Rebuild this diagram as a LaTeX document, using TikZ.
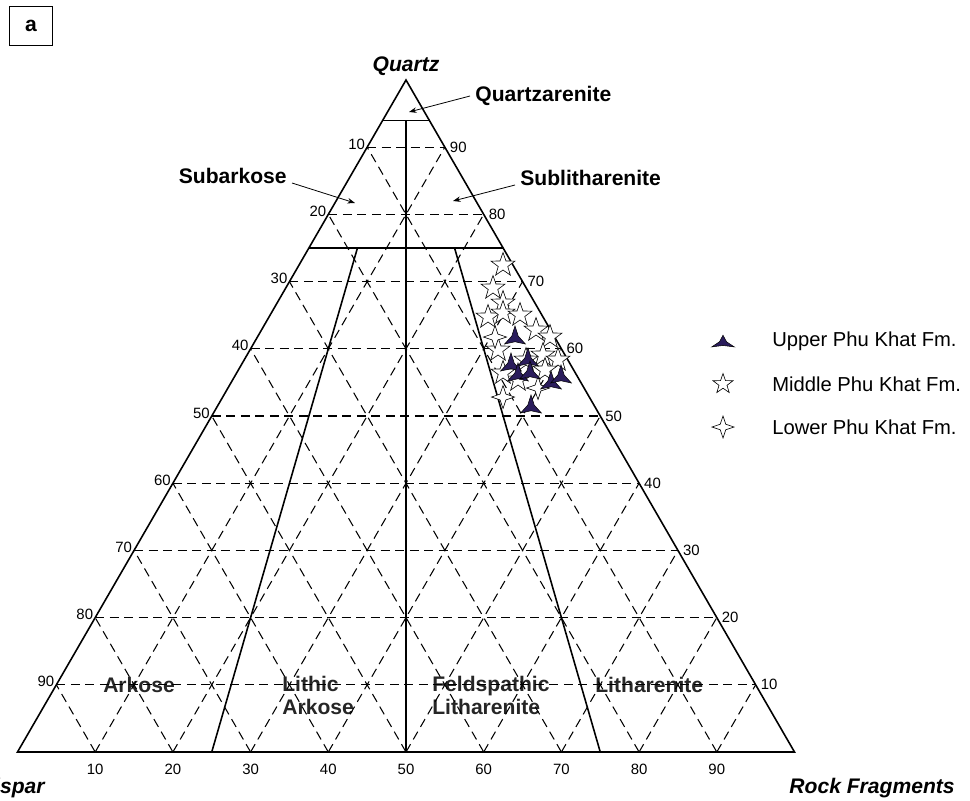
\documentclass[tikz,border=0pt]{standalone}
\usepackage{fontspec}
\setmainfont{Liberation Sans}
\usetikzlibrary{shapes.geometric,arrows.meta,calc}
\definecolor{upperblue}{RGB}{42,28,92}
\tikzstyle{grid}=[dash pattern=on 1.8mm off 1.1mm, line width=0.6pt]
\tikzstyle{border}=[line width=0.9pt]
\tikzstyle{tick}=[font=\fontsize{8.5}{10}\selectfont, inner sep=1pt]
\tikzstyle{field}=[font=\fontsize{12}{13}\selectfont\bfseries, align=left, inner sep=0pt, text=black!85]
\tikzstyle{endmember}=[font=\fontsize{12}{13}\selectfont\bfseries\itshape, inner sep=0pt]
\tikzstyle{pointer}=[-{Stealth[length=1.5mm,width=1.1mm]}, line width=0.45pt]
\tikzstyle{upper}=[star, star points=3, star point ratio=3.2, fill=upperblue, draw=black, line width=0.3pt, inner sep=0pt, minimum size=4.8mm]
\tikzstyle{middle}=[star, star points=5, star point ratio=2.5, fill=white, draw=black, line width=0.35pt, inner sep=0pt, minimum size=5mm]
\tikzstyle{lower}=[star, star points=4, star point ratio=2.8, fill=white, draw=black, line width=0.35pt, inner sep=0pt, minimum size=4.6mm]
\tikzstyle{legendtext}=[font=\fontsize{11.5}{13}\selectfont, anchor=west, inner sep=0pt]

\begin{document}
\begin{tikzpicture}[x=0.2mm,y=-0.2mm]
\useasboundingbox (0,0) rectangle (970,800);

% corners
\coordinate (F) at (17.5,752);
\coordinate (R) at (794.5,752);
\coordinate (Q) at (406,80);

% field names
\node[field, anchor=base] (arkose) at (139,692) {Arkose};
\node[field, anchor=north west] (lithark) at (282,676) {Lithic\\Arkose};
\node[field, anchor=north west] (feldlith) at (432,676) {Feldspathic\\Litharenite};
\node[field, anchor=base west] (lith) at (595,692) {Litharenite};

% dashed grid
\foreach \i in {1,...,9}{
  \pgfmathsetmacro\a{\i/10}
  \pgfmathsetmacro\b{1-\i/10}
  \draw[grid] (barycentric cs:Q=\a,F=\b) -- (barycentric cs:Q=\a,R=\b);
  \draw[grid] (barycentric cs:R=\a,F=\b) -- (barycentric cs:R=\a,Q=\b);
  \draw[grid] (barycentric cs:F=\a,R=\b) -- (barycentric cs:F=\a,Q=\b);
}

% ticks
\foreach \i in {1,...,9}{
  \pgfmathsetmacro\a{\i/10}
  \pgfmathsetmacro\b{1-\i/10}
  \pgfmathtruncatemacro\j{10-\i}
  \node[tick, anchor=east, yshift=0.6mm] (fl\i) at (barycentric cs:Q=\a,F=\b) {\j0};
  \node[tick, anchor=west, xshift=0.6mm] (ql\i) at (barycentric cs:Q=\a,R=\b) {\i0};
  \node[tick, anchor=north, yshift=-2mm] (rl\i) at (barycentric cs:R=\a,F=\b) {\i0};
}

% outline and class boundaries
\draw[border] (F) -- (R) -- (Q) -- cycle;
\draw[border] (barycentric cs:Q=0.94,F=0.06) -- (barycentric cs:Q=0.94,R=0.06);
\draw[border] (barycentric cs:Q=0.75,F=0.25) -- (barycentric cs:Q=0.75,R=0.25);
\draw[border] (barycentric cs:Q=0.94,F=0.03,R=0.03) -- (barycentric cs:F=0.5,R=0.5);
\draw[border] (barycentric cs:Q=0.75,F=0.1875,R=0.0625) -- (barycentric cs:F=0.75,R=0.25);
\draw[border] (barycentric cs:Q=0.75,F=0.0625,R=0.1875) -- (barycentric cs:F=0.25,R=0.75);

% end members
\node[endmember, anchor=base] (quartz) at (406,71) {Quartz};
\node[endmember, anchor=base east] (feldspar) at (45,793) {Feldspar};
\node[endmember, anchor=base east] (rockfrag) at (955,793) {Rock Fragments};

% pointed fields
\node[field, text=black, anchor=base west, inner sep=0pt] (qzaren) at (475,101) {Quartzarenite};
\node[field, text=black, anchor=base east, inner sep=0pt] (subark) at (287,183) {Subarkose};
\node[field, text=black, anchor=base west, inner sep=0pt] (sublith) at (520,185) {Sublitharenite};
\coordinate (qzpt) at (409,112);
\coordinate (sapt) at (355,203);
\coordinate (slpt) at (453,201);
\draw[pointer] ([xshift=-1mm,yshift=1mm]qzaren.base west) -- (qzpt);
\draw[pointer] ([xshift=1mm]subark.base east) -- (sapt);
\draw[pointer] ([xshift=-1mm]sublith.base west) -- (slpt);

% samples
\foreach \x/\y [count=\n] in {503/265,493/288,503/303,488/317,503/313,520/315,
    536/330,550/337,526/360,543/355,558/360,518/380,545/370,503/373,498/350}
  \node[middle] (m\n) at (\x,\y) {};
\foreach \x/\y [count=\n] in {495/337,503/397,538/388}
  \node[lower] (l\n) at (\x,\y) {};
\foreach \x/\y [count=\n] in {515/338,511/365,528/360,518/375,530/373,551/383,561/377,531/407}
  \node[upper] (u\n) at (\x,\y) {};

% legend
\node[upper, minimum size=5.2mm, yscale=0.6] (upperkey) at (723,343) {};
\node[middle, minimum size=4.2mm] (middlekey) at (723,384) {};
\node[lower, minimum size=4.4mm] (lowerkey) at (723,427) {};
\node[legendtext] (uppertxt) at (772,341) {Upper Phu Khat Fm.};
\node[legendtext] (middletxt) at (772,384) {Middle Phu Khat Fm.};
\node[legendtext] (lowertxt) at (772,427) {Lower Phu Khat Fm.};

% panel tag
\node[draw, line width=0.6pt, minimum width=8.6mm, minimum height=7.8mm, font=\fontsize{12}{13}\selectfont\bfseries] (tag) at (31,26) {a};

\end{tikzpicture}
\end{document}
